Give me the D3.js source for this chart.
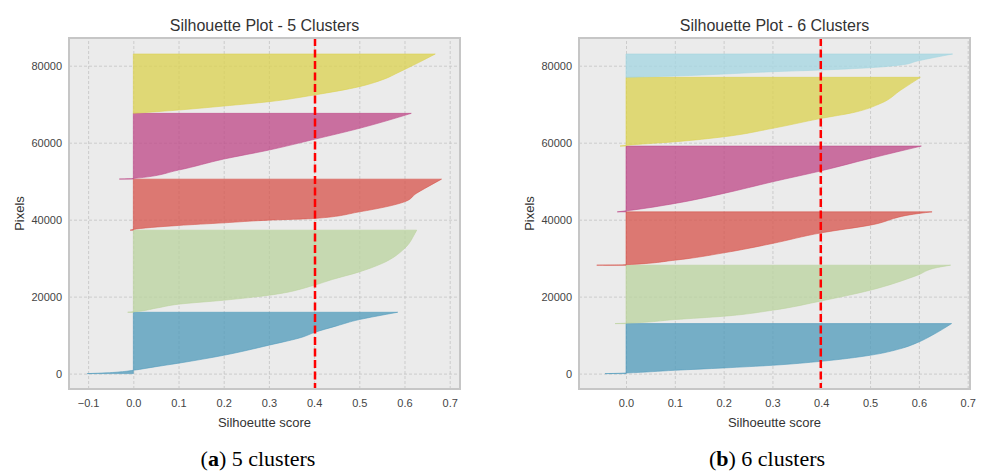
<!DOCTYPE html>
<html>
<head>
<meta charset="utf-8">
<script src="https://cdn.jsdelivr.net/npm/d3@7"></script>
<style>
  body { margin: 0; background: #fff; }
  svg text { font-family: "Liberation Sans", Arial, sans-serif; }
</style>
</head>
<body>
<script>
// silhouette profiles: [score, pixel index], one list per cluster, bottom to top
var blue5 = [[-0.102,0],[-0.06,200],[-0.02,550],[0.0,860],[0.05,1800],[0.103,2760],[0.2,4760],[0.3,7380],[0.375,9520],[0.40,10660],[0.45,12400],[0.5,14040],[0.537,14900],[0.585,15940]];
var green5 = [[-0.0125,15940],[0.0,16050],[0.05,17000],[0.1,18030],[0.2,19060],[0.3,20360],[0.4,22960],[0.44,24440],[0.5,26430],[0.55,28600],[0.6,32500],[0.623,36400],[0.627,37270]];
var red5 = [[-0.007,37270],[0.0,37450],[0.1,38490],[0.2,39170],[0.3,39870],[0.4,40310],[0.5,42030],[0.6,44630],[0.626,46810],[0.645,48110],[0.682,50530]];
var magenta5 = [[-0.031,50550],[-0.01,50620],[0.0,50700],[0.1,52880],[0.2,55740],[0.3,58080],[0.4,60860],[0.5,63720],[0.615,67620]];
var yellow5 = [[0.0,67620],[0.1,68480],[0.2,69520],[0.3,70650],[0.4,72390],[0.5,74560],[0.55,76300],[0.59,78440],[0.668,83040]];

var blue6 = [[-0.043,0],[-0.02,60],[0.0,160],[0.1,860],[0.2,1470],[0.3,2160],[0.4,3200],[0.5,4760],[0.563,6500],[0.6,8220],[0.627,9960],[0.667,13000]];
var green6 = [[-0.0225,13000],[0.0,13100],[0.1,14040],[0.2,14900],[0.3,16460],[0.4,18880],[0.5,21660],[0.597,25560],[0.638,27570],[0.665,28170]];
var red6 = [[-0.06,28170],[-0.02,28220],[0.0,28300],[0.1,29470],[0.2,31370],[0.3,33810],[0.4,36570],[0.5,38570],[0.6,41610],[0.627,42030]];
var magenta6 = [[-0.018,42030],[0.0,42290],[0.1,44210],[0.2,46810],[0.3,49830],[0.4,52690],[0.5,55910],[0.605,59120]];
var yellow6 = [[-0.0123,59120],[0.0,59300],[0.1,60230],[0.2,61530],[0.3,63720],[0.4,66320],[0.464,67780],[0.522,70220],[0.563,73680],[0.603,76980]];
var cyan6 = [[0.0,76980],[0.1,77320],[0.2,77840],[0.3,78440],[0.4,78880],[0.5,79480],[0.563,80180],[0.597,81220],[0.669,83040]];

var avgScore5 = 0.402;
var avgScore6 = 0.399;

var xTicks5 = [-0.1,0.0,0.1,0.2,0.3,0.4,0.5,0.6,0.7];
var xTicks6 = [0.0,0.1,0.2,0.3,0.4,0.5,0.6,0.7];
var yTicks = [0,20000,40000,60000,80000];

var titles = ["Silhouette Plot - 5 Clusters","Silhouette Plot - 6 Clusters"];
var captionLetters = ["a","b"];
var captionTexts = [" 5 clusters"," 6 clusters"];

var clusterColors = ["#4e99ba","#bad39d","#d7524a","#bd4686","#dbd14e","#a3d5e1"];

var svg = d3.select("body").append("svg")
	.attr("width",983)
	.attr("height",473);

function drawPanel(opt){
	var top = 38, bottom = 389;
	var x = d3.scaleLinear().domain(opt.xDomain).range([opt.left,opt.right]);
	var y = d3.scaleLinear().domain([-4000,87200]).range([bottom,top]);

	var g = svg.append("g");

	g.append("rect")
		.attr("x",opt.left).attr("y",top)
		.attr("width",opt.right-opt.left).attr("height",bottom-top)
		.attr("fill","#ebebeb");

	// grid + tick labels through axes
	var xAxis = d3.axisBottom(x).tickValues(opt.xTicks)
		.tickSize(-(bottom-top)).tickPadding(10)
		.tickFormat(function(d){ return d3.format(".1f")(d).replace("-","\u2212"); });
	var gx = g.append("g").attr("transform","translate(0,"+bottom+")").call(xAxis);

	var yAxis = d3.axisLeft(y).tickValues(yTicks)
		.tickSize(-(opt.right-opt.left)).tickPadding(7)
		.tickFormat(d3.format("d"));
	var gy = g.append("g").attr("transform","translate("+opt.left+",0)").call(yAxis);

	[gx,gy].forEach(function(a){
		a.select(".domain").remove();
		a.selectAll(".tick line")
			.attr("stroke","#c4c4c4")
			.attr("stroke-width",0.8)
			.attr("stroke-dasharray","3,2");
		a.selectAll(".tick text")
			.attr("fill","#444")
			.style("font-size","11px")
			.style("font-family","Liberation Sans, Arial, sans-serif");
	});

	var area = d3.area()
		.y(function(d){ return y(d[1]); })
		.x0(x(0))
		.x1(function(d){ return x(d[0]); })
		.curve(d3.curveMonotoneY);

	g.selectAll("path.sil")
		.data(opt.clusters)
		.enter()
		.append("path")
		.attr("class","sil")
		.attr("d",area)
		.attr("fill",function(d,i){ return clusterColors[i]; })
		.attr("fill-opacity",0.75)
		.attr("stroke",function(d,i){ return clusterColors[i]; })
		.attr("stroke-opacity",0.8)
		.attr("stroke-width",0.7);

	g.append("line")
		.attr("x1",x(opt.avg)).attr("x2",x(opt.avg))
		.attr("y1",top).attr("y2",bottom)
		.attr("stroke","#ff0000")
		.attr("stroke-width",2.5)
		.attr("stroke-dasharray","8,3.5");

	g.append("rect")
		.attr("x",opt.left).attr("y",top)
		.attr("width",opt.right-opt.left).attr("height",bottom-top)
		.attr("fill","none")
		.attr("stroke","#c6c6c6")
		.attr("stroke-width",2);

	var cx = (opt.left+opt.right)/2;
	g.append("text")
		.attr("x",cx).attr("y",31)
		.attr("text-anchor","middle")
		.attr("fill","#333")
		.style("font-size","16px")
		.text(opt.title);

	g.append("text")
		.attr("x",cx).attr("y",427)
		.attr("text-anchor","middle")
		.attr("fill","#333")
		.style("font-size","13px")
		.text("Silhoeutte score");

	g.append("text")
		.attr("transform","translate("+opt.ylabelX+","+((top+bottom)/2)+") rotate(-90)")
		.attr("text-anchor","middle")
		.attr("fill","#333")
		.style("font-size","13px")
		.text("Pixels");

	var cap = g.append("text")
		.attr("x",opt.captionX).attr("y",466)
		.attr("text-anchor","middle")
		.attr("fill","#000")
		.style("font-family","Liberation Serif, serif")
		.style("font-size","22px");
	cap.append("tspan").text("(");
	cap.append("tspan").style("font-weight","bold").text(opt.letter);
	cap.append("tspan").text(")" + opt.caption);
}

drawPanel({
	left:69, right:460, xDomain:[-0.1423,0.7228], xTicks:xTicks5,
	clusters:[blue5,green5,red5,magenta5,yellow5], avg:avgScore5,
	title:titles[0], ylabelX:24, captionX:258,
	letter:captionLetters[0], caption:captionTexts[0]
});

drawPanel({
	left:579, right:970, xDomain:[-0.0963,0.7047], xTicks:xTicks6,
	clusters:[blue6,green6,red6,magenta6,yellow6,cyan6], avg:avgScore6,
	title:titles[1], ylabelX:534, captionX:767,
	letter:captionLetters[1], caption:captionTexts[1]
});
</script>
</body>
</html>
